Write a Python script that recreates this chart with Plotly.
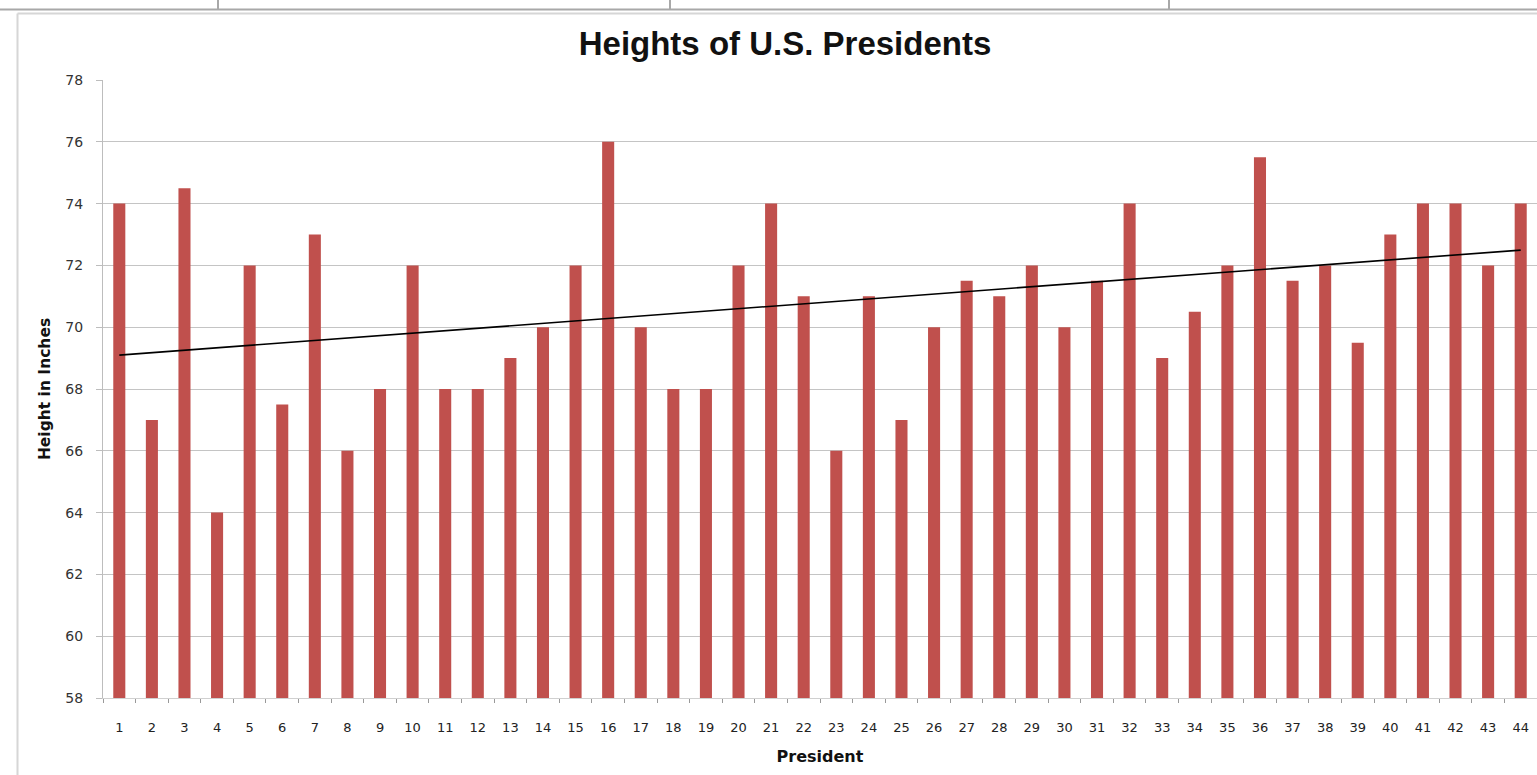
import numpy as np
import plotly.graph_objects as go

# Presidents in order (1 = Washington ... 44 = Obama) and heights in inches
presidents = [str(i) for i in range(1, 45)]
heights = [74, 67, 74.5, 64, 72, 67.5, 73, 66, 68, 72,
           68, 68, 69, 70, 72, 76, 70, 68, 68, 72,
           74, 71, 66, 71, 67, 70, 71.5, 71, 72, 70,
           71.5, 74, 69, 70.5, 72, 75.5, 71.5, 72, 69.5, 73,
           74, 74, 72, 74]

y_ticks = list(range(58, 79, 2))

# Linear trend fitted to the heights
idx = np.arange(1, len(heights) + 1)
slope, intercept = np.polyfit(idx, heights, 1)
trend = slope * idx + intercept

W, H = 1537, 775
L, R, T, B = 103, 0, 80, 77
PW, PH = W - L - R, H - T - B


def px(x):
    return (x - L) / PW


def py(y):
    return (H - B - y) / PH


BAR = "#C0504D"
GRID = "#C4C4C4"
FONT = "Arial, Liberation Sans, sans-serif"
WIDE = "DejaVu Sans, Verdana, sans-serif"

fig = go.Figure()
fig.add_trace(go.Bar(x=presidents, y=heights, marker=dict(color=BAR, line=dict(width=0)),
                     showlegend=False))
fig.add_trace(go.Scatter(x=presidents, y=trend, mode="lines",
                         line=dict(color="black", width=1.6), showlegend=False))

shapes = []
# spreadsheet cell lines above the chart object
shapes.append(dict(type="line", xref="paper", yref="paper", x0=px(0), x1=px(W),
                   y0=py(9.5), y1=py(9.5), line=dict(color="#A8A8A8", width=2)))
for cx in (218, 670, 1169):
    shapes.append(dict(type="line", xref="paper", yref="paper", x0=px(cx), x1=px(cx),
                       y0=py(0), y1=py(9.5), line=dict(color="#A8A8A8", width=2)))
# chart object border
shapes.append(dict(type="line", xref="paper", yref="paper", x0=px(17.5), x1=px(W),
                   y0=py(13.5), y1=py(13.5), line=dict(color="#D6D6D6", width=2)))
shapes.append(dict(type="line", xref="paper", yref="paper", x0=px(17.5), x1=px(17.5),
                   y0=py(13.5), y1=py(H), line=dict(color="#D6D6D6", width=2)))

fig.update_layout(
    width=W, height=H,
    margin=dict(l=L, r=R, t=T, b=B),
    paper_bgcolor="white", plot_bgcolor="white",
    bargap=0.63,
    font=dict(family=FONT, color="#222"),
    title=dict(text="<b>Heights of U.S. Presidents</b>", xref="container", x=785 / W,
               xanchor="center", y=1 - 43 / H, yanchor="middle",
               font=dict(size=33, color="#111", family=FONT)),
    shapes=shapes,
    xaxis=dict(type="category", tickson="boundaries", ticks="outside", ticklen=4,
               tickcolor="#999", showgrid=False, showline=True, linecolor="#D0D0D0",
               linewidth=1, ticklabelstandoff=17,
               tickfont=dict(size=13, color="#222", family=WIDE),
               title=dict(text="<b>President</b>", font=dict(size=16, color="#111", family=WIDE),
                          standoff=17)),
    yaxis=dict(range=[58, 78], tickvals=y_ticks, showgrid=True, gridcolor=GRID,
               gridwidth=1, zeroline=False, showline=True, linecolor="#BDBDBD",
               linewidth=1, ticks="outside", ticklen=6, tickcolor="#BDBDBD",
               ticklabelstandoff=10, tickfont=dict(size=14, color="#333", family=WIDE),
               title=dict(text="<b>Height in Inches</b>",
                          font=dict(size=15.5, color="#111", family=WIDE), standoff=10)),
)

fig.write_html("out.html")
